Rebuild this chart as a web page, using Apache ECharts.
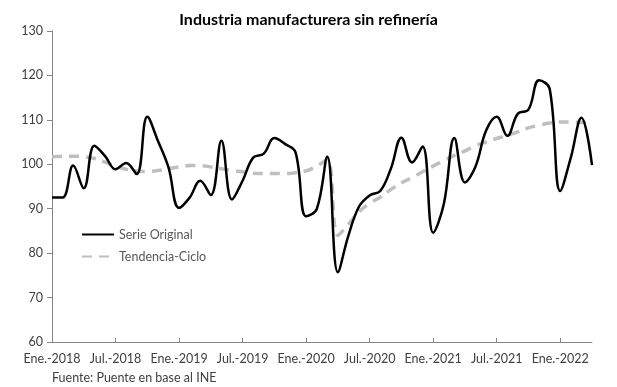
<!DOCTYPE html>
<html>
<head>
<meta charset="utf-8">
<script src="https://cdn.jsdelivr.net/npm/echarts@6/dist/echarts.min.js"></script>
<style>
html,body{margin:0;padding:0;background:#fff;}
#c{width:617px;height:387px;}
</style>
</head>
<body>
<div id="c"></div>
<script>
const months = ["Ene.","Feb.","Mar.","Abr.","May.","Jun.","Jul.","Ago.","Sep.","Oct.","Nov.","Dic."];
const years = [2018, 2019, 2020, 2021, 2022];
const nPoints = 52;
const categories = [];
for (let i = 0; i < nPoints; i++) {
  categories.push(months[i % 12] + "-" + years[Math.floor(i / 12)]);
}
const serieOriginal = [
  92.5, 92.5, 99.7, 94.6, 104.2, 101.9, 98.9, 100.3, 97.8, 110.7, 105.3, 99.3,
  90.2, 92.5, 96.3, 93.1, 105.3, 92.1, 96.3, 101.5, 102.4, 105.9, 104.6, 102.7,
  88.3, 89.9, 101.7, 75.7, 84.0, 90.5, 93.0, 94.0, 99.0, 106.0, 100.4, 104.0,
  84.6, 91.0, 105.9, 95.9, 99.5, 107.6, 110.7, 106.4, 111.4, 112.3, 118.9, 117.0,
  94.0, 101.5, 110.5, 99.8
];
const tendenciaCiclo = [
  101.7, 101.8, 101.8, 101.7, 101.3, 100.5, 99.6, 98.9, 98.5, 98.4, 98.6, 99.0,
  99.4, 99.7, 99.7, 99.4, 99.0, 98.6, 98.3, 98.0, 97.9, 97.9, 97.9, 98.1,
  98.5, 99.6, 101.0, 84.0, 86.5, 89.3, 91.2, 92.6, 94.3, 95.8, 97.0, 98.3,
  99.6, 100.8, 102.0, 103.0, 104.2, 105.0, 105.8, 106.5, 107.3, 108.2, 108.8, 109.3,
  109.5, 109.5, 109.4, 109.3
];
const titleText = "Industria manufacturera sin refinería";
const sourceText = "Fuente: Puente en base al INE";
const seriesNames = ["Serie Original", "Tendencia-Ciclo"];

const FONT = "Lato";
const chart = echarts.init(document.getElementById('c'), null, {renderer: 'canvas'});
chart.setOption({
  animation: false,
  backgroundColor: '#ffffff',
  title: {
    text: titleText,
    left: 'center',
    top: 7,
    textStyle: {fontFamily: FONT, fontSize: 16, fontWeight: 'bold', color: '#000000'}
  },
  graphic: [{
    type: 'text',
    left: 52,
    top: 371,
    style: {text: sourceText, fontFamily: FONT, fontSize: 12.5, fill: '#404040'}
  }],
  legend: {
    orient: 'vertical',
    left: 76,
    top: 223,
    itemWidth: 32,
    itemHeight: 14,
    itemGap: 9,
    itemStyle: {opacity: 0},
    textStyle: {fontFamily: FONT, fontSize: 12.5, color: '#595959'},
    data: seriesNames
  },
  grid: {left: 52, right: 25, top: 31, bottom: 45, containLabel: false},
  xAxis: {
    type: 'category',
    data: categories,
    boundaryGap: false,
    axisLine: {lineStyle: {color: '#868686', width: 1}},
    axisTick: {show: true, inside: true, length: 4, interval: 5, lineStyle: {color: '#868686'}},
    axisLabel: {interval: 5, color: '#404040', fontFamily: FONT, fontSize: 12.5, margin: 10},
    splitLine: {show: false}
  },
  yAxis: {
    type: 'value',
    min: 60,
    max: 130,
    interval: 10,
    axisLine: {show: true, lineStyle: {color: '#868686', width: 1}},
    axisTick: {show: true, inside: false, length: 5, lineStyle: {color: '#868686'}},
    axisLabel: {color: '#404040', fontFamily: FONT, fontSize: 12.5, margin: 9},
    splitLine: {show: false}
  },
  series: [
    {
      name: seriesNames[0],
      type: 'line',
      data: serieOriginal,
      smooth: 0.4,
      symbol: 'none',
      lineStyle: {color: '#000000', width: 2.5},
      itemStyle: {color: '#000000'},
      z: 3
    },
    {
      name: seriesNames[1],
      type: 'line',
      data: tendenciaCiclo,
      smooth: 0.4,
      symbol: 'none',
      lineStyle: {color: '#bfbfbf', width: 3.5, type: [10, 7]},
      itemStyle: {color: '#bfbfbf'},
      z: 2
    }
  ]
});
</script>
</body>
</html>
